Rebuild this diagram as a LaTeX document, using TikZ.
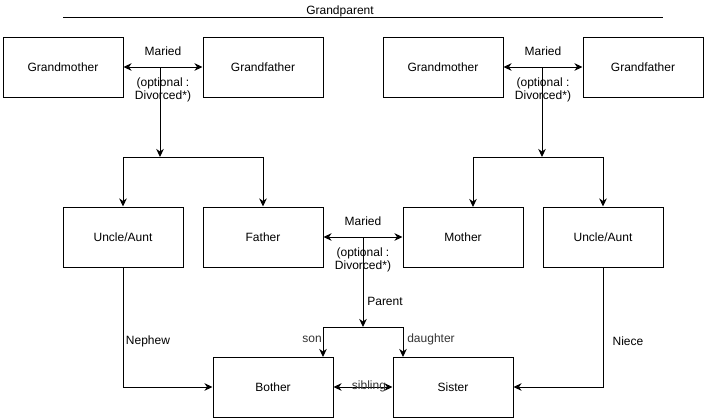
\documentclass[tikz,border=0pt]{standalone}
\usepackage{fontspec}
\setmainfont{Liberation Sans}
\usetikzlibrary{arrows.meta}
\begin{document}
\begin{tikzpicture}[x=1pt,y=-1pt,
  box/.style={draw,line width=1pt,minimum width=120pt,minimum height=60pt,inner sep=0pt,font=\fontsize{12}{14}\selectfont},
  lbl/.style={font=\fontsize{12}{14}\selectfont,inner sep=0pt,align=center},
  glbl/.style={lbl,text=black!80},
  conn/.style={line width=1pt,-{Stealth[length=8pt,width=7.5pt,inset=2.5pt]}},
  bconn/.style={line width=1pt,{Stealth[length=8pt,width=7.5pt,inset=2.5pt]}-{Stealth[length=8pt,width=7.5pt,inset=2.5pt]}}]
\useasboundingbox (0,0) rectangle (704,418);
% title
\node[lbl] (title) at (340,11) {Grandparent};
\coordinate (tl) at (63,17);
\coordinate (tr) at (663,17);
\draw[line width=1pt] (tl) -- (tr);
% boxes
\node[box] (gm1) at (63,67) {Grandmother};
\node[box] (gf1) at (263,67) {Grandfather};
\node[box] (gm2) at (443,67) {Grandmother};
\node[box] (gf2) at (643,67) {Grandfather};
\node[box] (ua1) at (123,237) {Uncle/Aunt};
\node[box] (fa) at (263,237) {Father};
\node[box] (mo) at (463,237) {Mother};
\node[box] (ua2) at (603,237) {Uncle/Aunt};
\node[box] (br) at (273,387) {Bother};
\node[box] (si) at (453,387) {Sister};
% grandparents 1
\draw[bconn] (gm1) -- (gf1);
\coordinate (m1) at (160,67);
\coordinate (j1) at (160,157);
\coordinate (j1l) at (123,157);
\coordinate (j1r) at (263,157);
\draw[conn] (m1) -- (j1);
\draw[conn] (j1) -- (j1l) -- (ua1.north);
\draw[conn] (j1) -- (j1r) -- (fa.north);
\node[lbl] (mar1) at (163,51) {Maried};
\node[lbl] (opt1) at (163,89.5) {(optional :\\[-1pt]Divorced*)};
% grandparents 2
\draw[bconn] (gm2) -- (gf2);
\coordinate (m2) at (542,67);
\coordinate (j2) at (542,157);
\coordinate (j2l) at (473,157);
\coordinate (j2r) at (603,157);
\coordinate (mot) at (473,207);
\draw[conn] (m2) -- (j2);
\draw[conn] (j2) -- (j2l) -- (mot);
\draw[conn] (j2) -- (j2r) -- (ua2.north);
\node[lbl] (mar2) at (543,51) {Maried};
\node[lbl] (opt2) at (543,89.5) {(optional :\\[-1pt]Divorced*)};
% parents
\draw[bconn] (fa) -- (mo);
\coordinate (m3) at (363,237);
\coordinate (j3) at (363,327);
\coordinate (j3l) at (323,327);
\coordinate (j3r) at (403,327);
\coordinate (brt) at (323,357);
\coordinate (sit) at (403,357);
\draw[conn] (m3) -- (j3);
\draw[conn] (j3) -- (j3l) -- (brt);
\draw[conn] (j3) -- (j3r) -- (sit);
\node[lbl] (mar3) at (363,221) {Maried};
\node[lbl] (opt3) at (363,259.5) {(optional :\\[-1pt]Divorced*)};
\node[lbl] (par) at (385,301) {Parent};
\node[glbl] (son) at (312,339) {son};
\node[glbl] (dau) at (431,339) {daughter};
% siblings
\draw[bconn] (br) -- (si);
\node[glbl] (sib) at (369,386) {sibling};
% nephew / niece
\coordinate (n1) at (123,387);
\draw[conn] (ua1.south) -- (n1) -- (br.west);
\node[lbl] (neph) at (148,341) {Nephew};
\coordinate (n2) at (603,387);
\draw[conn] (ua2.south) -- (n2) -- (si.east);
\node[lbl] (niece) at (628,341) {Niece};
\end{tikzpicture}
\end{document}
